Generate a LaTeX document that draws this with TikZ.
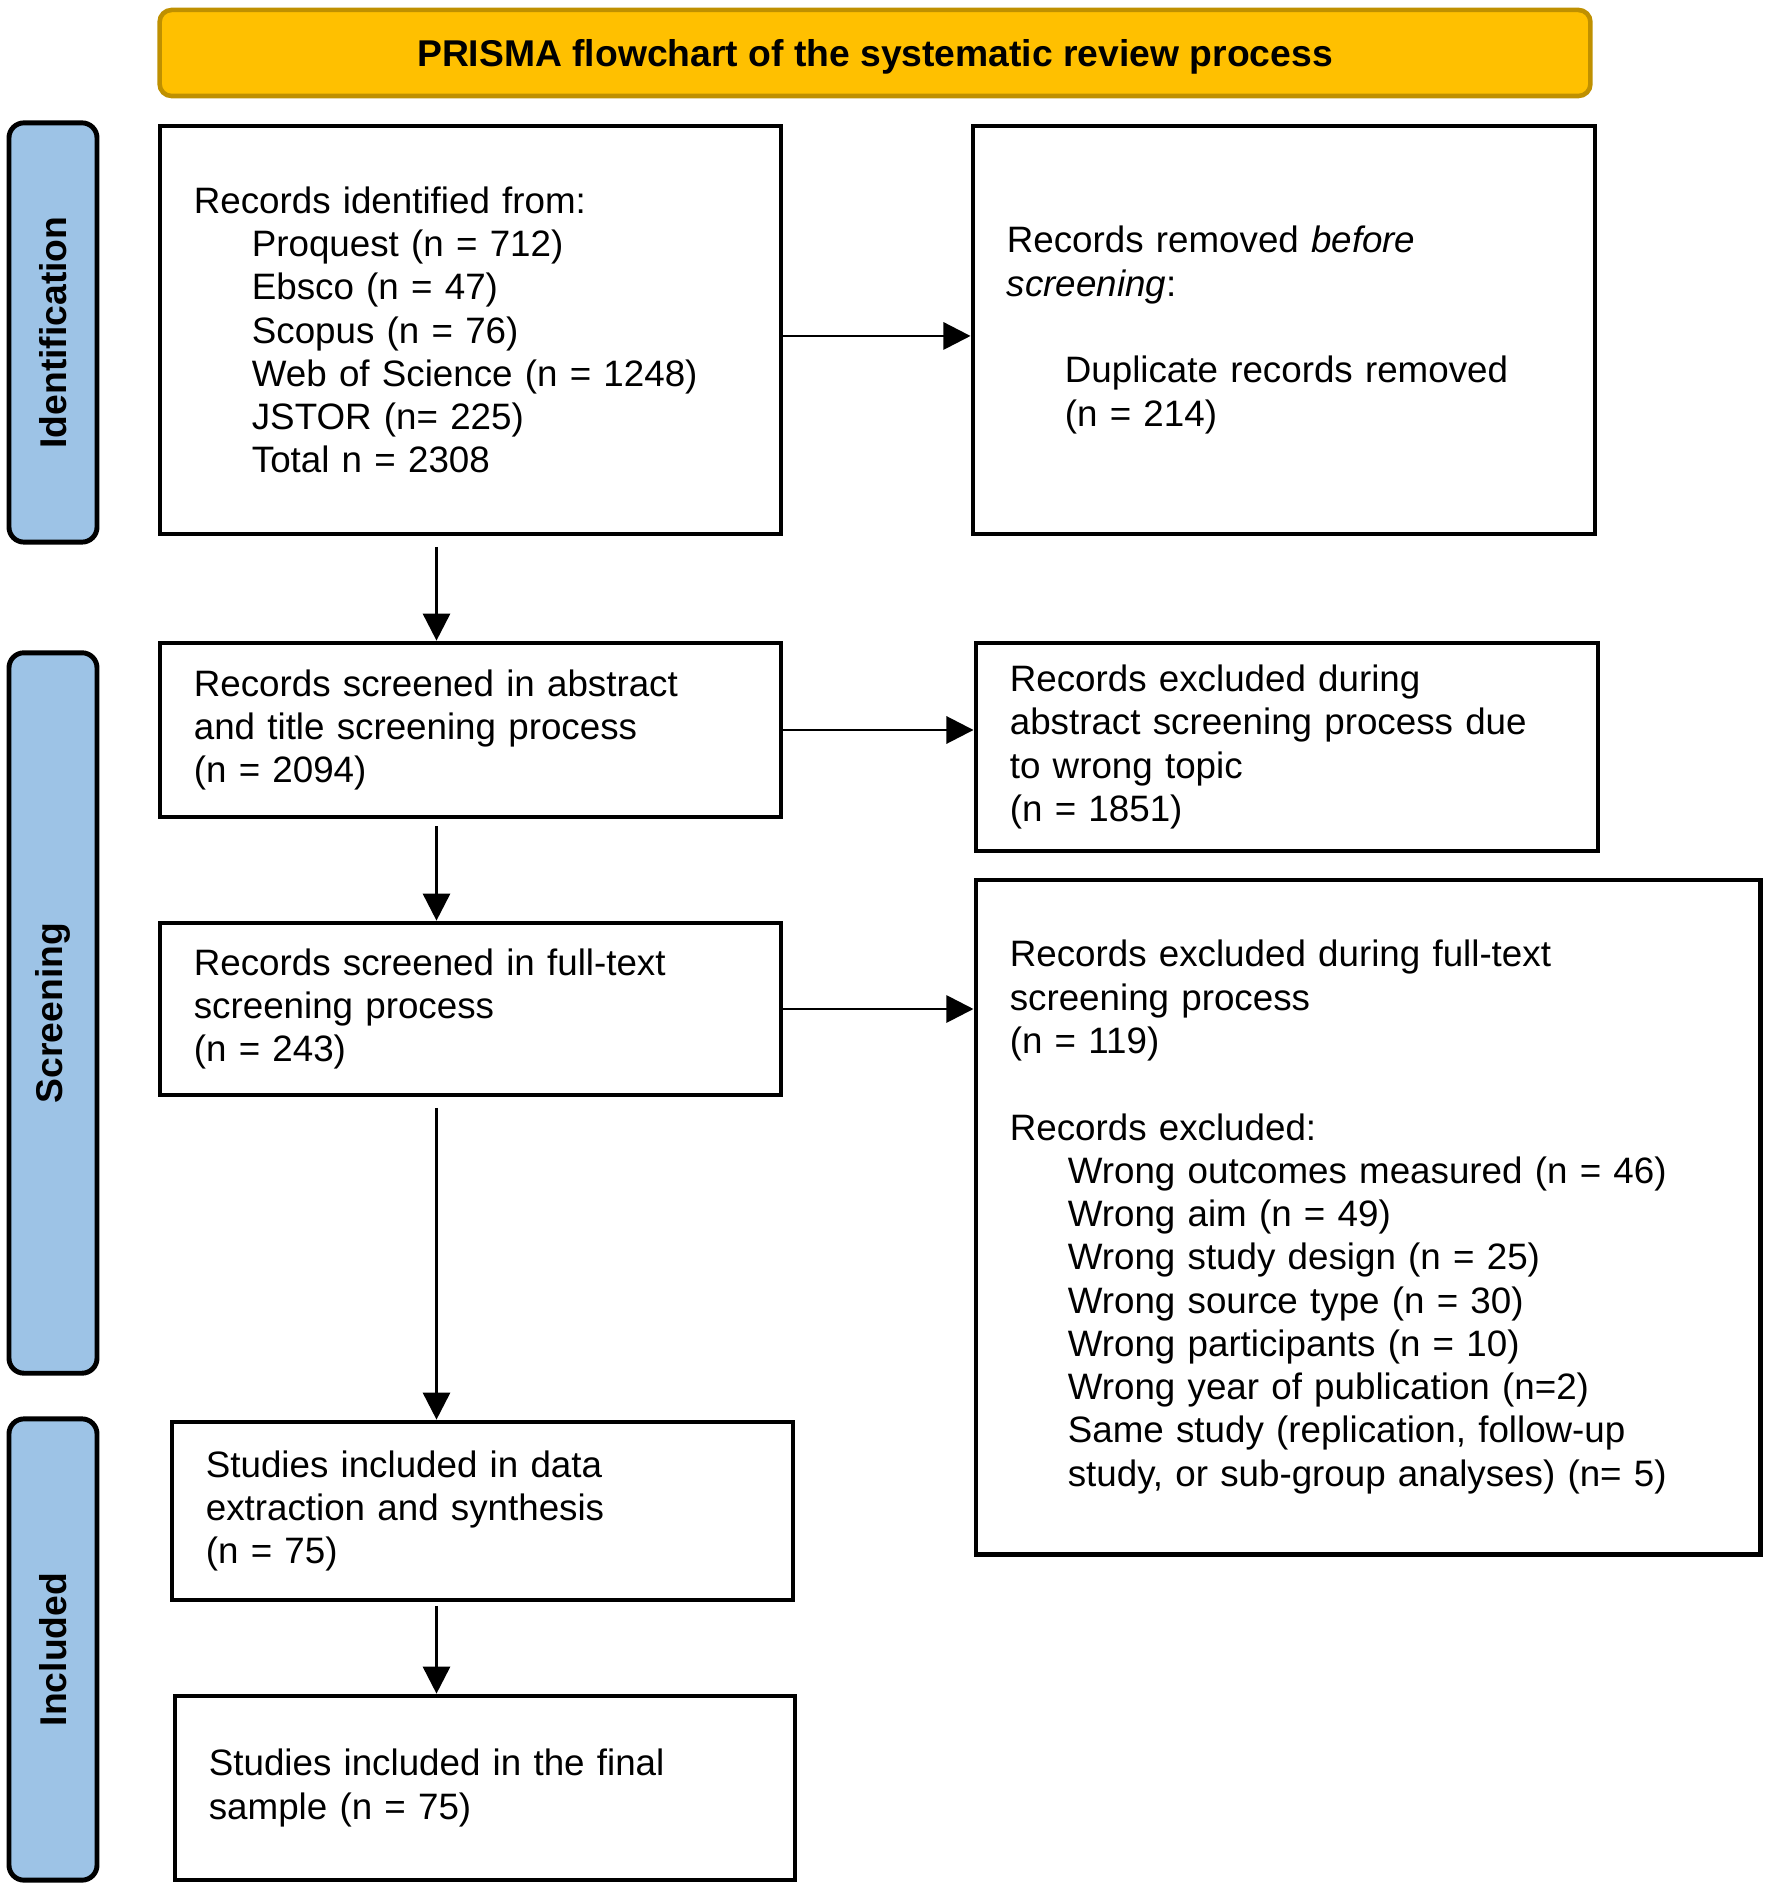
\documentclass[tikz,border=0pt]{standalone}
\usepackage{fontspec}
\setmainfont{Liberation Sans}
\usetikzlibrary{arrows.meta,positioning}
\definecolor{prismagold}{RGB}{255,192,0}
\definecolor{prismagoldline}{RGB}{191,144,0}
\definecolor{stageblue}{RGB}{157,195,230}
\newcommand{\ind}{\hspace*{16.5pt}}
\tikzset{
  flow/.style={-{Triangle[length=7.7pt,width=7.7pt]}, line width=0.8pt, black},
  box/.style={draw, line width=1.3pt, inner xsep=0.34cm, inner ysep=0pt, align=left, font=\fontsize{10.45}{12.3}\selectfont},
  banner/.style={draw=prismagoldline, fill=prismagold, line width=1.3pt, rounded corners=0.12cm, minimum width=14.3cm, minimum height=0.86cm, text depth=0pt, font=\fontsize{10.6}{12.3}\selectfont\bfseries},
  stage/.style={draw, fill=stageblue, line width=1.4pt, rounded corners=0.15cm, rotate=90, minimum height=0.88cm, font=\fontsize{10.6}{12.3}\selectfont\bfseries}
}

\begin{document}
\begin{tikzpicture}[x=0.01cm,y=-0.01cm]
  \useasboundingbox (0,0) rectangle (1771,1889);
  \node[banner] (head) at (875,53) {PRISMA flowchart of the systematic review process};
  \node[stage, minimum width=4.19cm] (ident) at (53,332.5) {Identification};
  \node[stage, minimum width=7.20cm] (screen) at (53,1013) {Screening};
  \node[stage, minimum width=4.61cm] (incl) at (53,1649.5) {Included};
  \node[box, text width=5.53cm, minimum height=4.08cm] (found) at (470.5,330) {Records identified from:\\ \ind Proquest (n = 712)\\ \ind Ebsco (n = 47)\\ \ind Scopus (n = 76)\\ \ind Web of Science (n = 1248)\\ \ind JSTOR (n= 225)\\ \ind Total n = 2308};
  \node[box, text width=5.54cm, minimum height=4.08cm] (removed) at (1284,330) {Records removed \textit{before}\\ \textit{screening}:\\[12.3pt] \ind Duplicate records removed\\ \ind (n = 214)};
  \node[box, text width=5.53cm, minimum height=1.74cm] (abstract) at (470.5,730) {Records screened in abstract\\ and title screening process\\ (n = 2094)};
  \node[box, text width=5.54cm, minimum height=2.08cm] (exclabs) at (1287,747) {Records excluded during\\ abstract screening process due\\ to wrong topic\\ (n = 1851)};
  \node[box, text width=5.53cm, minimum height=1.72cm] (fulltext) at (470.5,1009) {Records screened in full-text\\ screening process\\ (n = 243)};
  \node[box, text width=7.16cm, minimum height=6.74cm] (exclfull) at (1368,1217) {Records excluded during full-text\\ screening process\\ (n = 119)\\[12.3pt] Records excluded:\\ \ind Wrong outcomes measured (n = 46)\\ \ind Wrong aim (n = 49)\\ \ind Wrong study design (n = 25)\\ \ind Wrong source type (n = 30)\\ \ind Wrong participants (n = 10)\\ \ind Wrong year of publication (n=2)\\ \ind Same study (replication, follow-up\\ \ind study, or sub-group analyses) (n= 5)};
  \node[box, text width=5.53cm, minimum height=1.78cm] (extract) at (482.5,1511) {Studies included in data\\ extraction and synthesis\\ (n = 75)};
  \node[box, text width=5.52cm, minimum height=1.84cm] (final) at (485,1788) {Studies included in the final\\ sample (n = 75)};
  \coordinate (spine) at (436.5,0);
  \draw[flow] ([yshift=-1.7pt]found.east) -- ([yshift=-1.7pt]found.east -| removed.west);
  \draw[flow, shorten <=3pt] (found.south -| spine) -- (abstract.north -| spine);
  \draw[flow] (abstract.east) -- (abstract.east -| exclabs.west);
  \draw[flow, shorten <=2pt] (abstract.south -| spine) -- (fulltext.north -| spine);
  \draw[flow] (fulltext.east) -- (fulltext.east -| exclfull.west);
  \draw[flow, shorten <=3pt] (fulltext.south -| spine) -- (extract.north -| spine);
  \draw[flow, shorten <=1pt] (extract.south -| spine) -- (final.north -| spine);
\end{tikzpicture}
\end{document}
